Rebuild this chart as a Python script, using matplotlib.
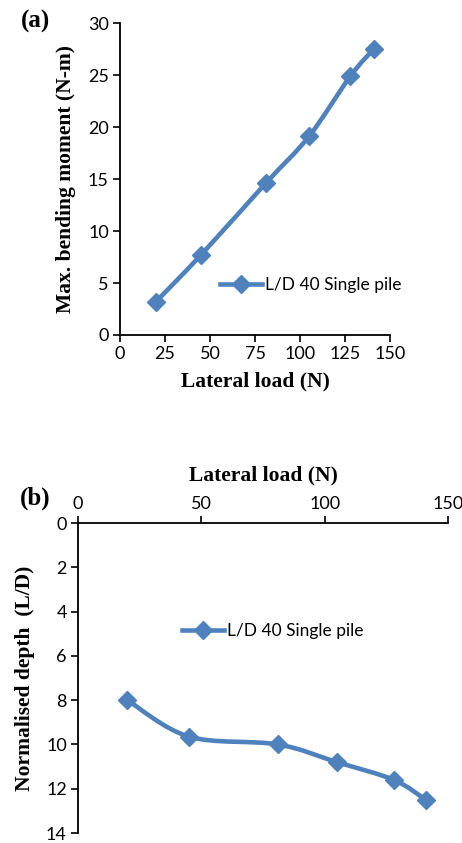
import matplotlib
matplotlib.use("Agg")
import matplotlib.pyplot as plt
from matplotlib.path import Path
from matplotlib.patches import PathPatch
from matplotlib.lines import Line2D
import numpy as np

# ---- data ----
load_a = [20, 45, 81, 105, 128, 141]
moment_a = [3.2, 7.7, 14.6, 19.1, 24.9, 27.5]
load_b = [20, 45, 81, 105, 128, 141]
depth_b = [8.0, 9.65, 10.0, 10.8, 11.6, 12.5]
series_label = "L/D 40 Single pile"
xticks_a = [0, 25, 50, 75, 100, 125, 150]
yticks_a = [0, 5, 10, 15, 20, 25, 30]
xticks_b = [0, 50, 100, 150]
yticks_b = [0, 2, 4, 6, 8, 10, 12, 14]

BLUE = "#4F81BD"
TICKFONT = "Lato"
LABELFONT = "Liberation Serif"
LW = 3.3
MS = 9


def smooth_path(xs, ys):
    """Excel-like smoothed line as cubic Bezier segments through the points."""
    P = np.column_stack([xs, ys]).astype(float)
    n = len(P)
    verts = [P[0]]
    codes = [Path.MOVETO]
    for i in range(n - 1):
        p0 = P[i - 1] if i > 0 else P[i]
        p1 = P[i]
        p2 = P[i + 1]
        p3 = P[i + 2] if i + 2 < n else P[i + 1]
        c1 = p1 + (p2 - p0) / 6.0
        c2 = p2 - (p3 - p1) / 6.0
        verts += [c1, c2, p2]
        codes += [Path.CURVE4] * 3
    return Path(verts, codes)


def draw_series(ax, xs, ys):
    patch = PathPatch(smooth_path(xs, ys), facecolor="none", edgecolor=BLUE,
                      lw=LW, capstyle="round", joinstyle="round",
                      transform=ax.transData, zorder=3)
    ax.add_patch(patch)
    ax.plot(xs, ys, linestyle="none", marker="D", markersize=MS,
            color=BLUE, zorder=4)


fig = plt.figure(figsize=(4.62, 8.43), dpi=100)

# ---- panel (a) ----
axa = fig.add_axes([120 / 462, 1 - 335 / 843, 270 / 462, 312 / 843])
draw_series(axa, load_a, moment_a)
axa.set_xlim(0, 150)
axa.set_ylim(0, 30)
axa.set_xticks(xticks_a)
axa.set_yticks(yticks_a)
for s in ["top", "right"]:
    axa.spines[s].set_visible(False)
for s in ["left", "bottom"]:
    axa.spines[s].set_linewidth(1.3)
axa.tick_params(direction="out", length=5, width=1.2, labelsize=13, pad=3)
for lab in axa.get_xticklabels() + axa.get_yticklabels():
    lab.set_fontfamily(TICKFONT)
axa.set_xlabel("Lateral load (N)", fontfamily=LABELFONT, fontweight="bold",
               fontsize=15.5, labelpad=7)
axa.set_ylabel("Max. bending moment (N-m)", fontfamily=LABELFONT,
               fontweight="bold", fontsize=15.5, labelpad=9)
h = Line2D([], [], color=BLUE, lw=LW, marker="D", markersize=MS)
axa.legend([h], [series_label], loc="center left",
           bbox_to_anchor=((220 - 120) / 270, (335 - 285) / 312),
           frameon=False, prop={"family": TICKFONT, "size": 12.5},
           handlelength=2.4, handletextpad=0.2, borderpad=0, borderaxespad=0)
fig.text(35 / 462, 1 - 21 / 843, "(a)", fontfamily=LABELFONT,
         fontweight="bold", fontsize=18, ha="center", va="center")

# ---- panel (b) ----
axb = fig.add_axes([78 / 462, 1 - 833 / 843, 370 / 462, 310 / 843])
draw_series(axb, load_b, depth_b)
axb.set_xlim(0, 150)
axb.set_ylim(14, 0)
axb.set_xticks(xticks_b)
axb.set_yticks(yticks_b)
axb.xaxis.set_ticks_position("top")
axb.xaxis.set_label_position("top")
for s in ["bottom", "right"]:
    axb.spines[s].set_visible(False)
for s in ["left", "top"]:
    axb.spines[s].set_linewidth(1.3)
axb.tick_params(direction="out", length=5, width=1.2, labelsize=13, pad=3)
for lab in axb.get_xticklabels() + axb.get_yticklabels():
    lab.set_fontfamily(TICKFONT)
axb.set_xlabel("Lateral load (N)", fontfamily=LABELFONT, fontweight="bold",
               fontsize=15.5, labelpad=11)
axb.set_ylabel("Normalised depth  (L/D)", fontfamily=LABELFONT,
               fontweight="bold", fontsize=15.5, labelpad=8)
h2 = Line2D([], [], color=BLUE, lw=LW, marker="D", markersize=MS)
axb.legend([h2], [series_label], loc="center left",
           bbox_to_anchor=((182 - 78) / 370, (833 - 631) / 310),
           frameon=False, prop={"family": TICKFONT, "size": 12.5},
           handlelength=2.4, handletextpad=0.2, borderpad=0, borderaxespad=0)
fig.text(35 / 462, 1 - 498 / 843, "(b)", fontfamily=LABELFONT,
         fontweight="bold", fontsize=18, ha="center", va="center")

fig.savefig("out.png", dpi=100)
